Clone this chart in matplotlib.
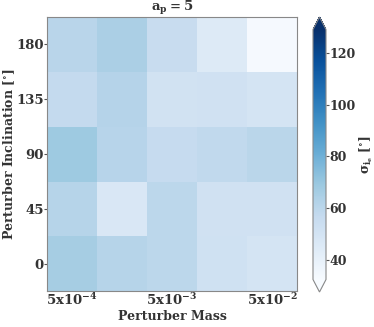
import numpy as np
import matplotlib
matplotlib.use("Agg")
import matplotlib.pyplot as plt

plt.rcParams['font.family'] = ['DejaVu Serif']
plt.rcParams['font.weight'] = 'bold'
plt.rcParams['axes.labelweight'] = 'bold'
plt.rcParams['axes.titleweight'] = 'bold'
plt.rcParams['mathtext.fontset'] = 'dejavuserif'
plt.rcParams['mathtext.default'] = 'bf'

mass_labels = ["5x10$^{-4}$", "", "5x10$^{-3}$", "", "5x10$^{-2}$"]
inclinations = [0, 45, 90, 135, 180]
# rows: inclination 0, 45, 90, 135, 180 ; columns: mass bins
sigma = np.array([
    [66.3, 61.2, 59.6, 52.1, 49.1],   # 0
    [61.2, 47.1, 59.3, 51.6, 51.6],   # 45
    [68.4, 60.9, 56.6, 57.8, 60.2],   # 90
    [57.2, 61.8, 50.6, 51.6, 49.6],   # 135
    [60.6, 64.8, 55.7, 44.6, 33.5],   # 180
])
vmin, vmax = 32.5, 129.0
cbar_ticks = [40, 60, 80, 100, 120]

txt = '#333333'
fig = plt.figure(figsize=(3.74, 3.27), dpi=100)
ax = fig.add_axes([47/374, 1-291/327, 250/374, 274/327])
cax = fig.add_axes([313/374, 1-292/327, 13/374, 275/327])

im = ax.imshow(sigma, cmap='Blues', vmin=vmin, vmax=vmax, origin='lower',
               aspect='auto', interpolation='nearest')
ax.set_xticks(range(len(mass_labels)))
ax.set_xticklabels(mass_labels)
ax.set_yticks(range(len(inclinations)))
ax.set_yticklabels([str(v) for v in inclinations])
for lab in ax.get_xticklabels() + ax.get_yticklabels():
    lab.set_fontsize(9.5)
    lab.set_color(txt)
    lab.set_fontweight('bold')
ax.tick_params(length=2, width=0.8, color='#555555', pad=0.5)
ax.tick_params(axis='x', length=0, pad=1)
for s in ax.spines.values():
    s.set_color('#888888')
ax.set_xlabel('Perturber Mass', fontsize=9, color=txt, labelpad=1, fontweight='bold')
ax.set_ylabel('Perturber Inclination [$^{\\circ}$]', fontsize=9, color=txt, fontweight='bold')
ax.yaxis.set_label_coords(-0.118, 0.5)
ax.set_title('$\\mathbf{a_p = 5}$', fontsize=9.5, color=txt, pad=3)

cb = fig.colorbar(im, cax=cax, extend='both', ticks=cbar_ticks)
cb.outline.set_edgecolor('#888888')
cb.ax.tick_params(labelsize=9, labelcolor=txt, length=2, color='#555555', pad=0.5)
for lab in cb.ax.get_yticklabels():
    lab.set_fontweight('bold')
cb.set_label('$\\sigma_{i_e}$ [$^{\\circ}$]', fontsize=9, color=txt, labelpad=1, fontweight='bold')

fig.savefig('out.png', dpi=100)
